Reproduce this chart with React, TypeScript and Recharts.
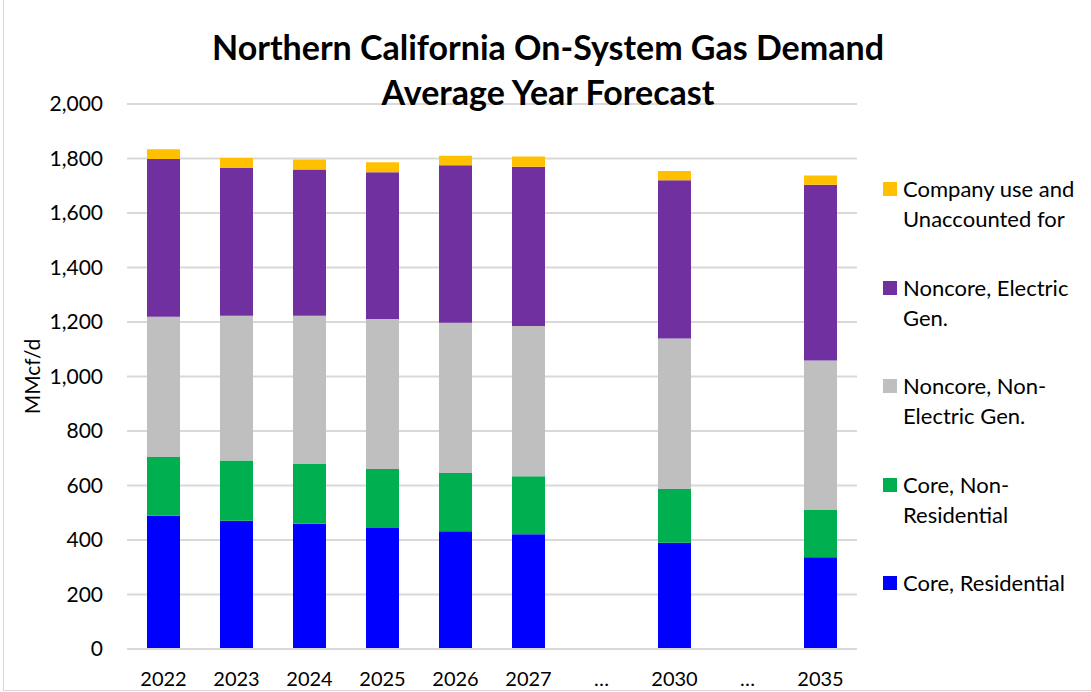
import { BarChart, Bar, XAxis, YAxis, CartesianGrid } from "recharts";

const years = ["2022", "2023", "2024", "2025", "2026", "2027", "…", "2030", "…", "2035"];
const coreResidential = [489, 471, 460, 444, 432, 421, null, 390, null, 337];
const coreNonResidential = [216, 221, 219, 217, 214, 213, null, 197, null, 173];
const noncoreNonElectric = [514, 531, 544, 550, 551, 551, null, 552, null, 549];
const noncoreElectric = [579, 542, 537, 539, 578, 585, null, 581, null, 645];
const companyUse = [36, 37, 36, 36, 35, 37, null, 34, null, 34];
const yTicks = [0, 200, 400, 600, 800, 1000, 1200, 1400, 1600, 1800, 2000];

const series = [
  { key: "res", name: "Core, Residential", color: "#0000ff", values: coreResidential },
  { key: "nonres", name: "Core, Non-Residential", color: "#00b050", values: coreNonResidential },
  { key: "noneg", name: "Noncore, Non-Electric Gen.", color: "#bfbfbf", values: noncoreNonElectric },
  { key: "eg", name: "Noncore, Electric Gen.", color: "#7030a0", values: noncoreElectric },
  { key: "co", name: "Company use and Unaccounted for", color: "#ffc000", values: companyUse },
];

// legend text wraps like in the original
const legendLines: Record<string, string[]> = {
  co: ["Company use and", "Unaccounted for"],
  eg: ["Noncore, Electric", "Gen."],
  noneg: ["Noncore, Non-", "Electric Gen."],
  nonres: ["Core, Non-", "Residential"],
  res: ["Core, Residential"],
};

const data = years.map((label, i) => {
  const row: Record<string, string | number | null> = { label };
  series.forEach((s) => (row[s.key] = s.values[i]));
  return row;
});

const font = "Lato, 'Open Sans', sans-serif";

const LegendBox = () => (
  <div
    style={{
      position: "absolute",
      left: 883,
      top: 174,
      width: 208,
      fontFamily: font,
      fontSize: 22,
      color: "#000",
    }}
  >
    {[...series].reverse().map((s) => (
      <div key={s.key} style={{ display: "flex", height: 98.5 }}>
        <div
          style={{
            width: 14,
            height: 14,
            background: s.color,
            marginTop: 8,
            marginRight: 6,
            flexShrink: 0,
          }}
        />
        <div style={{ lineHeight: "30px" }}>
          {legendLines[s.key].map((l) => (
            <div key={l} style={{ whiteSpace: "nowrap" }}>{l}</div>
          ))}
        </div>
      </div>
    ))}
  </div>
);

export default function App() {
  return (
    <div
      style={{
        position: "absolute",
        left: 0,
        top: 0,
        width: 1091,
        height: 692,
        background: "#fff",
        overflow: "hidden",
      }}
    >
      <div
        style={{
          position: "absolute",
          left: 3,
          top: 0,
          width: 1100,
          height: 690,
          borderLeft: "1px solid #d9d9d9",
          borderBottom: "1px solid #d9d9d9",
        }}
      />
      <div
        style={{
          position: "absolute",
          left: 0,
          top: 24,
          width: 1096,
          textAlign: "center",
          fontFamily: font,
          fontWeight: 700,
          fontSize: 34,
          lineHeight: "45px",
          color: "#000",
          zIndex: 2,
        }}
      >
        <div>Northern California On-System Gas Demand</div>
        <div>Average Year Forecast</div>
      </div>
      <LegendBox />
      <BarChart
        width={1091}
        height={692}
        data={data}
        margin={{ top: 104, right: 234, left: 0, bottom: 0 }}
        barSize={33}
      >
        <CartesianGrid vertical={false} stroke="#d9d9d9" strokeWidth={2} />
        <XAxis
          dataKey="label"
          height={43}
          tickLine={false}
          tickSize={0}
          tickMargin={23}
          axisLine={{ stroke: "#d9d9d9", strokeWidth: 2 }}
          tick={{ fill: "#000", fontSize: 20, fontFamily: font }}
          interval={0}
        />
        <YAxis
          width={127}
          domain={[0, 2000]}
          ticks={yTicks}
          tickFormatter={(v: number) => v.toLocaleString("en-US")}
          axisLine={false}
          tickLine={false}
          tickSize={0}
          tickMargin={24}
          tick={{ fill: "#000", fontSize: 21, fontFamily: font }}
          label={{
            value: "MMcf/d",
            angle: -90,
            position: "center",
            dx: -31,
            style: { fill: "#000", fontSize: 21, fontFamily: font, textAnchor: "middle" },
          }}
        />
        {series.map((s) => (
          <Bar
            key={s.key}
            dataKey={s.key}
            name={s.name}
            stackId="a"
            fill={s.color}
            isAnimationActive={false}
          />
        ))}
      </BarChart>
    </div>
  );
}
